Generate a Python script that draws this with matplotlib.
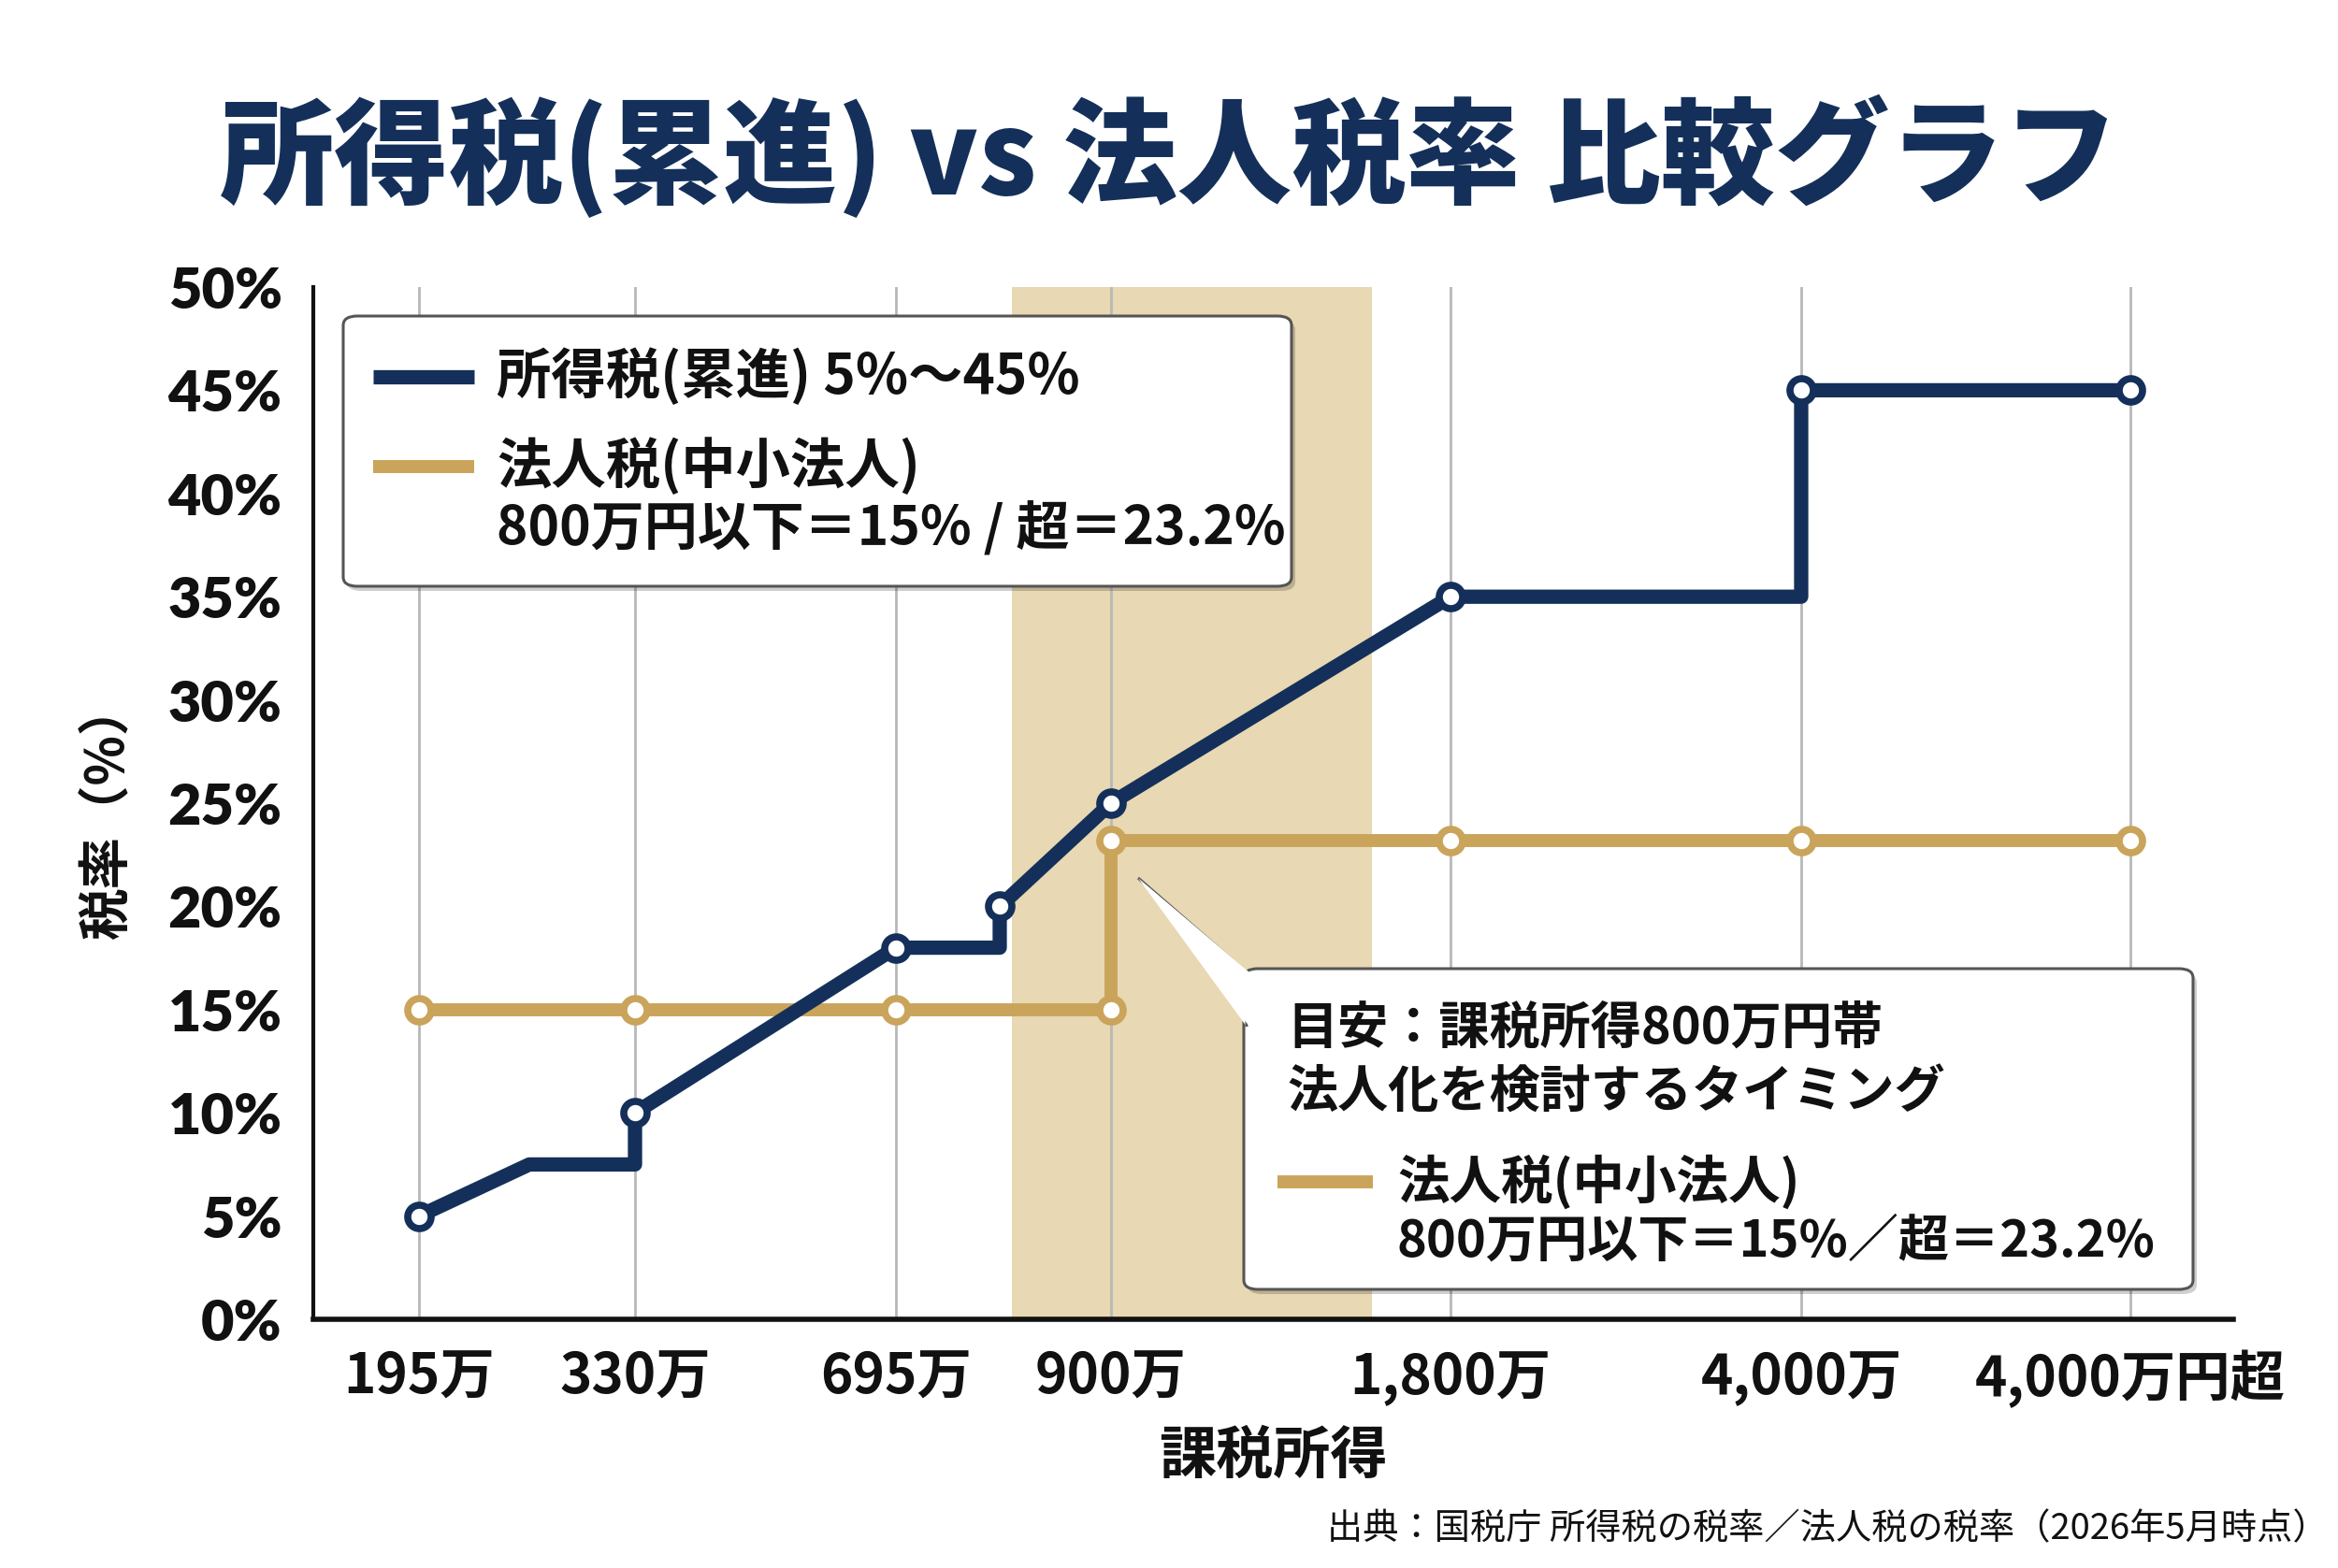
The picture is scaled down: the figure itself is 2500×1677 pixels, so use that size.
import matplotlib
matplotlib.use("Agg")
import matplotlib.pyplot as plt
from matplotlib.patches import FancyBboxPatch, Polygon
from matplotlib.lines import Line2D

plt.rcParams['font.family'] = ['Noto Sans CJK JP', 'DejaVu Sans']

# ---------------- data ----------------
x_labels = ['195万', '330万', '695万', '900万', '1,800万', '4,000万', '4,000万円超']
x_pos = [1.13, 3.44, 6.23, 8.53, 12.16, 15.91, 19.43]

income_x = [1.13, 2.31, 3.44, 3.44, 6.23, 7.34, 7.34, 8.53, 12.16, 15.91, 15.91, 19.43]
income_y = [5, 7.5, 7.5, 10, 18, 18, 20, 25, 35, 35, 45, 45]
income_mx = [1.13, 3.44, 6.23, 7.34, 8.53, 12.16, 15.91, 19.43]
income_my = [5, 10, 18, 20, 25, 35, 45, 45]

corp_x = [1.13, 3.44, 6.23, 8.53, 8.53, 12.16, 15.91, 19.43]
corp_y = [15, 15, 15, 15, 23.2, 23.2, 23.2, 23.2]

band = (7.47, 11.32)
y_ticks = [0, 5, 10, 15, 20, 25, 30, 35, 40, 45, 50]

NAVY = '#14305A'
GOLD = '#C9A45A'
BAND = '#E8D8B3'

W, H = 2500, 1677
fig = plt.figure(figsize=(W / 100, H / 100), dpi=100)
fig.patch.set_facecolor('white')


def fx(x):
    return x / W


def fy(y):
    return 1 - y / H


ax = fig.add_axes([fx(335), fy(1411), fx(2388) - fx(335), fy(307) - fy(1411)])
ax.set_xlim(0, 20.53)
ax.set_ylim(0, 50)

ax.axvspan(band[0], band[1], color=BAND, zorder=0.2, lw=0)

ax.set_axisbelow(True)
ax.set_xticks(x_pos)
ax.set_xticklabels(x_labels, fontsize=42, fontweight='bold', color='#111111')
ax.set_yticks(y_ticks)
ax.set_yticklabels([f'{v}%' for v in y_ticks], fontsize=44, fontweight='heavy',
                   family=['Lato', 'DejaVu Sans'], color='#111111')
ax.tick_params(axis='x', length=0, pad=23.5)
ax.tick_params(axis='y', length=0, pad=24)
ax.grid(True, axis='x', color='#B8B8B8', lw=2.0)
ax.set_yticks([0, 10, 20, 30, 40, 50], minor=True)
ax.grid(False, axis='y', which='major')
ax.grid(True, axis='y', which='minor', color='#B8B8B8', lw=2.0)
ax.tick_params(axis='y', which='minor', length=0)

for s in ['top', 'right']:
    ax.spines[s].set_visible(False)
ax.spines['left'].set_linewidth(3.0)
ax.spines['bottom'].set_linewidth(4.0)
ax.spines['left'].set_color('#111111')
ax.spines['bottom'].set_color('#111111')

# series
ax.plot(corp_x, corp_y, color=GOLD, lw=10, solid_joinstyle='round',
        solid_capstyle='round', zorder=3)
ax.plot(corp_x, corp_y, ls='none', marker='o', ms=18, mfc='white', mec=GOLD,
        mew=5.5, zorder=4)
ax.plot(income_x, income_y, color=NAVY, lw=11, solid_joinstyle='round',
        solid_capstyle='round', zorder=5)
ax.plot(income_mx, income_my, ls='none', marker='o', ms=18, mfc='white', mec=NAVY,
        mew=5.5, zorder=6)

ax.set_xlabel('課税所得', fontsize=44, fontweight='bold', labelpad=15.5, color='#111111')
fig.text(fx(115), fy(866), '税率（%）', rotation=90, fontsize=40, fontweight='bold',
         ha='center', va='center', color='#111111')

# title
fig.text(fx(1250), fy(167), '所得税(累進) vs 法人税率 比較グラフ', fontsize=88,
         fontweight='heavy', color=NAVY, ha='center', va='center')

# source
fig.text(fx(2490), fy(1636), '出典：国税庁 所得税の税率／法人税の税率（2026年5月時点）',
         fontsize=27.5, ha='right', va='center', color='#111111')


def box(x0, y0, x1, y1, z=10):
    sh = FancyBboxPatch((fx(x0 + 4), fy(y1 + 5)), fx(x1) - fx(x0), fy(y0) - fy(y1),
                        boxstyle='round,pad=0,rounding_size=0.006',
                        transform=fig.transFigure, fc='#00000030', ec='none', zorder=z)
    fig.add_artist(sh)
    b = FancyBboxPatch((fx(x0), fy(y1)), fx(x1) - fx(x0), fy(y0) - fy(y1),
                       boxstyle='round,pad=0,rounding_size=0.006',
                       transform=fig.transFigure, fc='white', ec='#555555', lw=2.2,
                       zorder=z + 0.1)
    fig.add_artist(b)


# legend 1
box(367, 338, 1381, 627)
fig.add_artist(Line2D([fx(399), fx(507)], [fy(403), fy(403)], transform=fig.transFigure,
                      color=NAVY, lw=11, solid_capstyle='butt', zorder=11))
fig.add_artist(Line2D([fx(399), fx(507)], [fy(499), fy(499)], transform=fig.transFigure,
                      color=GOLD, lw=10, solid_capstyle='butt', zorder=11))
fig.text(fx(531), fy(403), '所得税(累進) 5%〜45%', fontsize=42, fontweight='bold',
         va='center', ha='left', zorder=12, color='#111111')
fig.text(fx(531), fy(499), '法人税(中小法人)', fontsize=42, fontweight='bold',
         va='center', ha='left', zorder=12, color='#111111')
fig.text(fx(531), fy(566), '800万円以下＝15% / 超＝23.2%', fontsize=41, fontweight='bold',
         va='center', ha='left', zorder=12, color='#111111')

# annotation box 2 with pointer
box(1330, 1036, 2345, 1379)
ptr = Polygon([(fx(1217), fy(939)), (fx(1333), fy(1040)), (fx(1333), fy(1098))],
              closed=False, transform=fig.transFigure, fc='white', ec='#555555', lw=2.2,
              zorder=10.2)
fig.add_artist(ptr)
ptr_fill = Polygon([(fx(1217), fy(939)), (fx(1336), fy(1040)), (fx(1336), fy(1098))],
                   closed=True, transform=fig.transFigure, fc='white', ec='none',
                   zorder=10.3)
fig.add_artist(ptr_fill)
fig.text(fx(1376), fy(1100), '目安：課税所得800万円帯', fontsize=39, fontweight='bold',
         va='center', ha='left', zorder=12, color='#111111')
fig.text(fx(1376), fy(1169), '法人化を検討するタイミング', fontsize=39, fontweight='bold',
         va='center', ha='left', zorder=12, color='#111111')
fig.add_artist(Line2D([fx(1366), fx(1468)], [fy(1264), fy(1264)], transform=fig.transFigure,
                      color=GOLD, lw=10, solid_capstyle='butt', zorder=11))
fig.text(fx(1494), fy(1264), '法人税(中小法人)', fontsize=40, fontweight='bold',
         va='center', ha='left', zorder=12, color='#111111')
fig.text(fx(1494), fy(1328), '800万円以下＝15%／超＝23.2%', fontsize=39, fontweight='bold',
         va='center', ha='left', zorder=12, color='#111111')

fig.savefig('out.png', dpi=100, facecolor='white')
